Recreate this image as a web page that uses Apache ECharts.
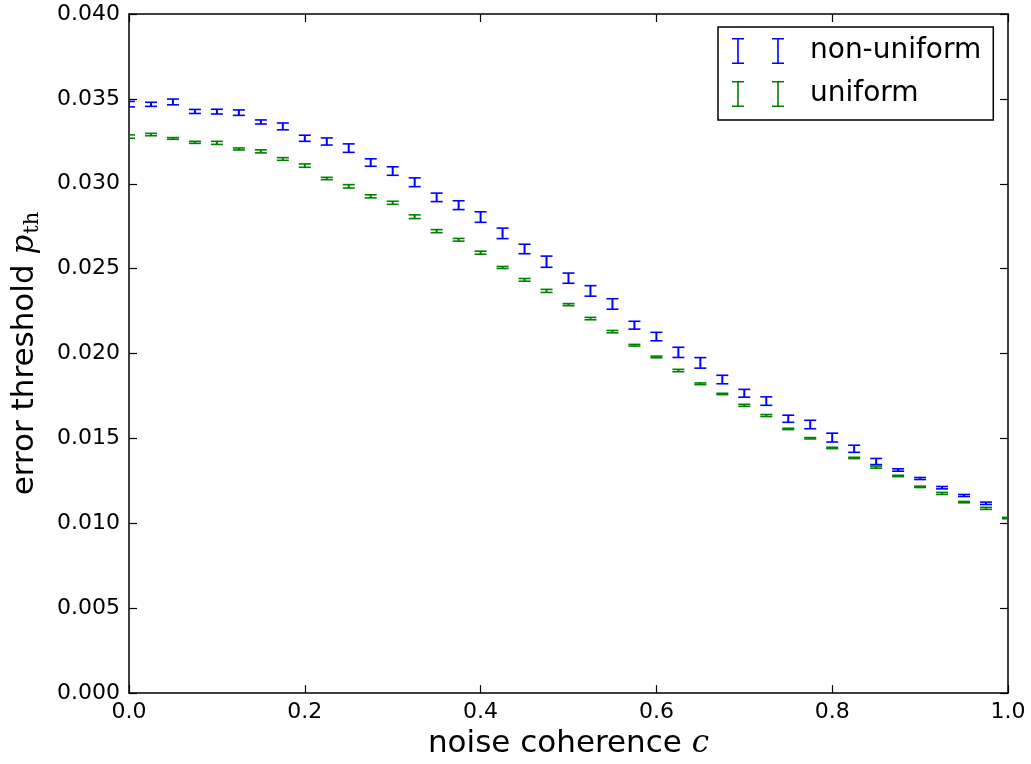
<!DOCTYPE html>
<html>
<head>
<meta charset="utf-8">
<script src="https://cdn.jsdelivr.net/npm/echarts@6/dist/echarts.min.js"></script>
<style>
  html, body { margin: 0; padding: 0; background: #fff; }
  #chart { width: 1031px; height: 764px; }
</style>
</head>
<body>
<div id="chart"></div>
<script>
// noise coherence c sample points
const coherence = [
  0.000, 0.025, 0.050, 0.075, 0.100, 0.125, 0.150, 0.175, 0.200, 0.225,
  0.250, 0.275, 0.300, 0.325, 0.350, 0.375, 0.400, 0.425, 0.450, 0.475,
  0.500, 0.525, 0.550, 0.575, 0.600, 0.625, 0.650, 0.675, 0.700, 0.725,
  0.750, 0.775, 0.800, 0.825, 0.850, 0.875, 0.900, 0.925, 0.950, 0.975,
  1.000
];

// threshold estimates, non-uniform noise (no sample at c = 1)
const nonUniform = [
  0.03469, 0.03468, 0.03482, 0.03426, 0.03425, 0.03419, 0.03364, 0.03338, 0.03268, 0.03249,
  0.03210, 0.03125, 0.03075, 0.03009, 0.02920, 0.02874, 0.02804, 0.02708, 0.02616, 0.02541,
  0.02444, 0.02369, 0.02292, 0.02167, 0.02100, 0.02007, 0.01945, 0.01847, 0.01766, 0.01720,
  0.01616, 0.01582, 0.01505, 0.01439, 0.01364, 0.01314, 0.01264, 0.01210, 0.01164, 0.01118
];
const nonUniformErr = [
  0.00016, 0.00012, 0.00017, 0.00012, 0.00014, 0.00016, 0.00012, 0.00020, 0.00018, 0.00021,
  0.00025, 0.00022, 0.00025, 0.00026, 0.00025, 0.00026, 0.00031, 0.00031, 0.00028, 0.00033,
  0.00030, 0.00031, 0.00031, 0.00023, 0.00025, 0.00030, 0.00031, 0.00025, 0.00023, 0.00025,
  0.00021, 0.00025, 0.00026, 0.00021, 0.00018, 0.00007, 0.00006, 0.00007, 0.00006, 0.00007
];

// threshold estimates, uniform noise
const uniform = [
  0.03278, 0.03290, 0.03267, 0.03244, 0.03241, 0.03205, 0.03191, 0.03146, 0.03107, 0.03031,
  0.02985, 0.02926, 0.02888, 0.02806, 0.02721, 0.02670, 0.02594, 0.02507, 0.02434, 0.02369,
  0.02288, 0.02206, 0.02129, 0.02049, 0.01980, 0.01900, 0.01822, 0.01762, 0.01695, 0.01635,
  0.01556, 0.01501, 0.01444, 0.01385, 0.01331, 0.01279, 0.01215, 0.01176, 0.01125, 0.01088,
  0.01031
];
const uniformErr = [
  0.00010, 0.00007, 0.00005, 0.00006, 0.00009, 0.00006, 0.00009, 0.00008, 0.00010, 0.00007,
  0.00010, 0.00009, 0.00009, 0.00011, 0.00009, 0.00008, 0.00009, 0.00006, 0.00008, 0.00009,
  0.00006, 0.00007, 0.00007, 0.00005, 0.00005, 0.00007, 0.00005, 0.00004, 0.00006, 0.00006,
  0.00004, 0.00004, 0.00004, 0.00004, 0.00006, 0.00004, 0.00004, 0.00006, 0.00004, 0.00006,
  0.00004
];

const xTicks = ['0.0', '0.2', '0.4', '0.6', '0.8', '1.0'];
const yTicks = ['0.000', '0.005', '0.010', '0.015', '0.020', '0.025', '0.030', '0.035', '0.040'];

const BLUE = '#0000ff';
const GREEN = '#008000';
const SANS = '"DejaVu Sans", sans-serif';
const SERIF = '"DejaVu Serif", serif';

function rows(vals, errs) {
  return vals.map((v, i) => [coherence[i], v, errs[i]]);
}

// vertical error bar with flat caps at both ends
function errorBar(color) {
  return function (params, api) {
    const x = api.value(0), y = api.value(1), e = api.value(2);
    const top = api.coord([x, y + e]);
    const bot = api.coord([x, y - e]);
    const half = 6;
    const stem = { stroke: color, lineWidth: 2, fill: null };
    const cap = { stroke: color, lineWidth: 1.6, fill: null };
    return {
      type: 'group',
      children: [
        { type: 'line', shape: { x1: top[0], y1: top[1], x2: bot[0], y2: bot[1] }, style: stem },
        { type: 'line', shape: { x1: top[0] - half, y1: top[1], x2: top[0] + half, y2: top[1] }, style: cap },
        { type: 'line', shape: { x1: bot[0] - half, y1: bot[1], x2: bot[0] + half, y2: bot[1] }, style: cap }
      ]
    };
  };
}

// legend glyph: two capped bars side by side
const barIcon = 'path://M0,0H12V1.6H6.8V24.4H12V26H0V24.4H5.2V1.6H0Z' +
                'M40,0H52V1.6H46.8V24.4H52V26H40V24.4H45.2V1.6H40Z';

const tickLabel = { color: '#000', fontFamily: SANS, fontSize: 22 };
const axisLine = { show: true, onZero: false, lineStyle: { color: '#000', width: 1.5 } };
const tickIn = { show: true, inside: true, length: 8, lineStyle: { color: '#000', width: 1.2 } };

const chart = echarts.init(document.getElementById('chart'), null, { renderer: 'canvas' });

chart.setOption({
  animation: false,
  backgroundColor: '#fff',
  grid: { left: 129, right: 23, top: 14, bottom: 70, containLabel: false },
  legend: {
    orient: 'vertical',
    left: 718,
    top: 27,
    padding: [10, 12, 12, 14],
    itemGap: 15,
    itemWidth: 52,
    itemHeight: 26,
    borderColor: '#000',
    borderWidth: 1.5,
    borderRadius: 0,
    backgroundColor: '#fff',
    itemStyle: { borderWidth: 0 },
    textStyle: { color: '#000', fontFamily: SANS, fontSize: 28, lineHeight: 26, padding: [0, 0, 0, 21] },
    data: [
      { name: 'non-uniform', icon: barIcon },
      { name: 'uniform', icon: barIcon }
    ]
  },
  xAxis: [
    {
      type: 'value', min: 0, max: 1, interval: 0.2, position: 'bottom',
      axisLine, axisTick: tickIn, splitLine: { show: false },
      axisLabel: { ...tickLabel, margin: 8, formatter: (v) => xTicks[Math.round(v / 0.2)] },
      name: '{t|noise coherence }{m|c}',
      nameLocation: 'middle', nameGap: 34,
      nameTextStyle: {
        rich: {
          t: { fontFamily: SANS, fontSize: 31, color: '#000' },
          m: { fontFamily: SERIF, fontStyle: 'italic', fontSize: 31, color: '#000' }
        }
      }
    },
    {
      type: 'value', min: 0, max: 1, interval: 0.2, position: 'top',
      axisLine, axisTick: tickIn, axisLabel: { show: false }, splitLine: { show: false }
    }
  ],
  yAxis: [
    {
      type: 'value', min: 0, max: 0.04, interval: 0.005, position: 'left',
      axisLine, axisTick: tickIn, splitLine: { show: false },
      axisLabel: { ...tickLabel, margin: 9, formatter: (v) => yTicks[Math.round(v / 0.005)] },
      name: '{t|error threshold }{m|p}{s|th}',
      nameLocation: 'middle', nameGap: 86, nameRotate: 90,
      nameTextStyle: {
        rich: {
          t: { fontFamily: SANS, fontSize: 31, color: '#000' },
          m: { fontFamily: SERIF, fontStyle: 'italic', fontSize: 31, color: '#000' },
          s: { fontFamily: SERIF, fontSize: 21, color: '#000', padding: [15, 0, 0, 1] }
        }
      }
    },
    {
      type: 'value', min: 0, max: 0.04, interval: 0.005, position: 'right',
      axisLine, axisTick: tickIn, axisLabel: { show: false }, splitLine: { show: false }
    }
  ],
  series: [
    {
      name: 'non-uniform',
      type: 'custom',
      clip: true,
      itemStyle: { color: BLUE },
      encode: { x: 0, y: 1 },
      renderItem: errorBar(BLUE),
      data: rows(nonUniform, nonUniformErr)
    },
    {
      name: 'uniform',
      type: 'custom',
      clip: true,
      itemStyle: { color: GREEN },
      encode: { x: 0, y: 1 },
      renderItem: errorBar(GREEN),
      data: rows(uniform, uniformErr)
    }
  ]
});
</script>
</body>
</html>
